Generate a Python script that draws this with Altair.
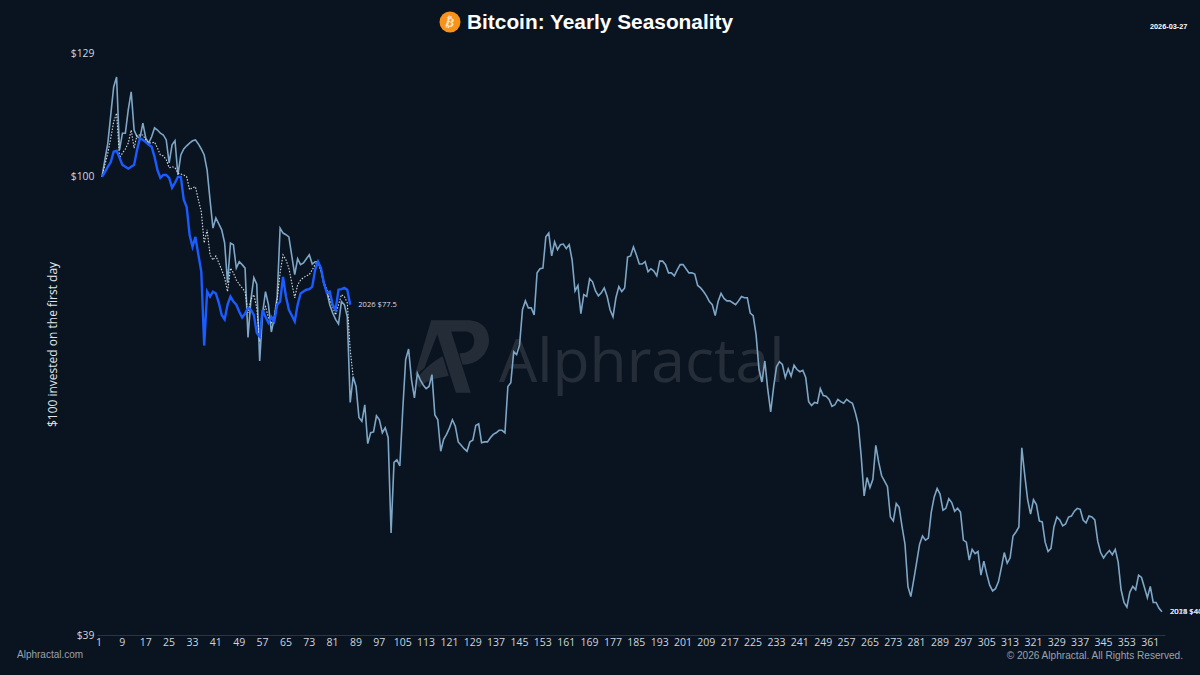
import altair as alt
import pandas as pd

BG = "#0a1320"
LIGHT = "#7ea6c6"
BLUE = "#1a5cff"

tick_days = list(range(1, 365, 8))
y_ticks = [39, 100, 129]

history = [
100,103.6,107.2,113.6,120.3,122.8,105.7,109.4,109.4,114.8,119.1,110.1,108.6,108.3,111.7,108.3,107.2,108.6,110.6,110.1,
109.4,109.0,107.9,102.9,106.8,107.7,100.4,104.6,105.9,106.6,107.2,107.7,107.9,107.0,105.9,104.6,101.4,95.4,90.0,91.9,
90.8,89.7,87.3,80.4,87.3,87.0,82.9,84.0,83.5,82.9,71.9,77.7,81.3,80.2,68.5,75.6,79.0,76.9,72.7,74.9,
78.2,90.0,89.1,88.8,88.4,85.0,81.8,84.5,83.5,83.8,84.5,85.2,83.6,84.0,84.0,82.6,80.2,79.0,76.9,75.6,
74.6,73.9,77.4,76.9,75.0,62.9,66.3,65.0,61.0,60.5,62.6,57.8,59.1,59.2,61.2,60.7,59.1,59.7,58.5,48.1,
55.6,55.9,55.2,62.0,68.7,70.2,65.9,63.5,66.8,65.9,65.2,64.7,65.0,66.6,61.3,60.7,56.9,58.3,58.9,59.7,
60.7,59.9,58.0,57.6,57.2,56.9,58.0,58.2,60.0,60.2,57.9,58.0,58.0,58.5,58.9,59.1,59.4,59.4,59.1,65.0,
65.5,69.8,69.4,70.8,76.1,77.5,76.4,76.4,75.3,82.1,82.8,82.9,88.4,89.1,85.0,87.5,86.1,87.0,87.1,86.3,
87.0,84.3,79.1,80.0,75.5,78.5,78.2,81.1,80.6,79.1,78.3,78.8,79.6,78.2,76.1,75.0,78.0,79.8,79.0,79.6,
84.8,85.0,86.6,85.2,83.6,83.6,84.0,82.3,82.8,82.4,81.6,84.1,84.1,83.5,82.1,82.1,81.6,82.6,83.5,83.5,
82.8,82.1,82.1,81.9,80.0,79.6,79.0,78.3,77.4,76.9,75.2,77.4,78.7,77.9,77.5,77.5,77.2,76.9,77.5,78.2,
78.0,78.0,75.6,75.2,72.3,67.3,65.6,68.5,64.6,61.7,64.9,67.7,68.4,68.0,66.2,67.4,66.4,67.9,67.3,67.0,
67.2,66.2,63.0,62.5,62.9,62.8,64.7,63.8,63.7,63.3,62.4,62.6,63.3,63.0,62.8,63.3,63.0,62.8,61.6,60.1,
56.3,51.9,53.9,52.8,53.7,57.6,55.6,54.1,53.5,52.9,49.7,49.3,51.1,50.7,48.7,47.0,43.1,42.2,43.7,45.3,
47.0,47.8,47.4,47.6,50.2,51.8,52.7,52.1,50.4,50.6,51.6,51.2,50.3,50.6,50.2,47.4,47.2,45.5,46.5,46.1,
46.3,44.1,45.4,44.2,43.2,42.7,42.9,43.5,44.8,46.2,45.2,45.7,47.8,48.2,48.7,57.3,54.2,51.5,50.0,51.5,
51.0,49.3,49.2,47.2,46.3,46.6,48.7,49.7,49.4,48.8,49.0,49.7,49.8,50.3,50.6,50.5,49.4,49.1,49.8,49.7,
49.4,47.3,46.2,45.7,46.1,46.4,46.0,46.5,45.3,42.8,41.7,41.3,42.6,43.1,42.8,44.1,43.9,43.0,42.1,43.1,
41.7,41.7,41.2,40.9,
]

average = [
100,102.5,105.0,108.3,112.0,114.0,104.0,105.0,105.9,107.2,110.1,106.1,109.0,109.0,109.0,107.9,107.2,107.2,107.4,106.1,
104.6,104.4,103.6,101.9,102.1,101.9,100.8,100.6,100.4,100,97.4,97.8,98.0,95.4,93.1,87.3,89.7,85.2,84.3,85.0,
83.8,82.6,81.3,79.0,82.9,82.1,80.9,80.2,79.6,79.0,75.6,77.7,78.5,76.4,71.3,75.6,76.6,74.9,74.1,74.9,
77.7,82.1,85.2,84.3,82.9,80.4,78.0,80.1,80.9,81.3,81.6,81.8,82.6,83.5,84.0,82.3,80.6,79.3,77.7,76.6,
75.3,76.9,78.5,78.2,77.2,70.1,66.3,
]

current = [
100,101.0,102.1,103.1,105.3,105.5,104.0,102.5,102.1,101.7,102.1,102.5,105.7,108.3,107.9,107.4,106.8,106.4,104.2,101.4,
99.8,100.4,100.4,99.8,97.8,98.8,100,100,95.4,94.0,88.8,86.6,88.4,85.2,82.3,70.7,79.0,78.2,79.0,78.7,
77.2,75.3,74.6,76.9,78.2,77.4,76.9,75.8,74.9,75.5,76.4,76.1,75.3,72.6,72.0,76.1,75.0,74.1,75.0,74.3,
76.9,77.4,81.4,78.2,76.1,75.2,74.3,76.9,78.7,79.0,79.3,79.4,79.8,82.6,84.0,82.9,80.4,78.8,79.0,76.9,
76.1,79.3,79.4,79.6,79.3,76.9,
]

end_labels = ["2014 $41.1", "2025 $40.9", "2018 $44.1"]


def frame(vals):
    return pd.DataFrame({"day": list(range(1, len(vals) + 1)), "v": vals})


x_scale = alt.Scale(domain=[-0.71, 365.04], nice=False, zero=False)
y_scale = alt.Scale(type="log", domain=[39, 129], nice=False)

x_axis = alt.Axis(
    values=tick_days, title=None, grid=False, ticks=False, labelOffset=-3.5,
    labelFont="Open Sans", labelFontSize=10.5, labelColor="#cdd6df", labelPadding=2,
    domainColor="#2a3442", domainWidth=1, labelOverlap=False, labelFlush=False,
)
y_axis = alt.Axis(
    values=y_ticks, format="$d", title="$100 invested on the first day", grid=False,
    ticks=False, domain=False, labelFont="Open Sans", labelFontSize=10.4,
    labelColor="#cdd6df", labelPadding=3, titleFont="Open Sans", titleFontSize=12,
    titleFontWeight="normal", titleColor="#dfe5ea", titlePadding=11,
)

X = alt.X("day:Q", scale=x_scale, axis=x_axis)
Y = alt.Y("v:Q", scale=y_scale, axis=y_axis)

hist_line = alt.Chart(frame(history)).mark_line(color=LIGHT, strokeWidth=1.6).encode(x=X, y=Y)
avg_line = alt.Chart(frame(average)).mark_line(color="#d5dde4", strokeWidth=1.1, strokeDash=[1.5, 1.5]).encode(x=X, y=Y)
cur_line = alt.Chart(frame(current)).mark_line(color=BLUE, strokeWidth=2.4).encode(x=X, y=Y)


def label_at(text, day, val, **kw):
    return (
        alt.Chart(pd.DataFrame({"day": [day], "v": [val], "t": [text]}))
        .mark_text(align="left", baseline="middle", font="Open Sans", fontSize=7.6, color="#d8dee4", **kw)
        .encode(x=X, y=Y, text="t:N")
    )


def fixed(text, px, py, **kw):
    return (
        alt.Chart(pd.DataFrame({"t": [text]}))
        .mark_text(**kw)
        .encode(x=alt.value(px - 97), y=alt.value(py - 53), text="t:N")
    )


logo_path = (
    "M-.52,-.97 L-.22,-.97 L-.52,-.19 L-.70,.29 L-.96,.50 Z "
    "M-.48,-.97 L-.09,-.97 L.52,.94 L.13,.94 Z "
    "M-.96,.63 C-.65,.24 -.39,.07 -.22,-.02 L-.06,.50 C-.39,.55 -.70,.63 -.83,.81 Z "
    "M-.09,-.97 L.43,-.97 C.83,-.97 1,-.71 1,-.45 C1,-.10 .70,.20 .30,.20 L.22,-.10 "
    "C.48,-.10 .61,-.23 .61,-.43 C.61,-.63 .48,-.67 .35,-.67 L0,-.67 Z"
)
logo = (
    alt.Chart(pd.DataFrame({"k": [1]}))
    .mark_point(shape=logo_path, filled=True, color="#ffffff", opacity=0.11, size=5776, strokeWidth=0)
    .encode(x=alt.value(451 - 97), y=alt.value(357 - 53))
)
wordmark = fixed("Alphractal", 499, 382, align="left", baseline="alphabetic", font="Open Sans", fontSize=60.5,
                 color="#ffffff", opacity=0.11)

coin = (
    alt.Chart(pd.DataFrame({"k": [1]}))
    .mark_point(shape="circle", filled=True, color="#f7931a", opacity=1, size=440, strokeWidth=0)
    .encode(x=alt.value(450 - 97), y=alt.value(22 - 53))
)
coin_b = fixed("₿", 450, 22.5, align="center", baseline="middle", font="DejaVu Sans", fontWeight="bold",
               fontSize=13, angle=14, color="#fbe3c4")
title = fixed("Bitcoin: Yearly Seasonality", 467, 22.5, align="left", baseline="middle", font="Liberation Sans",
              fontWeight="bold", fontSize=20.85, color="#ffffff")
date = fixed("2026-03-27", 1150, 26.5, align="left", baseline="middle", font="Liberation Sans", fontWeight="bold",
             fontSize=7.3, color="#ffffff")
site = fixed("Alphractal.com", 17, 655, align="left", baseline="middle", font="Liberation Sans", fontSize=10,
             color="#9aa3ac")
copy = fixed("© 2026 Alphractal. All Rights Reserved.", 1183, 655.5, align="right", baseline="middle",
             font="Liberation Sans", fontSize=10.1, color="#9aa3ac")

ends = [label_at(t, len(history), history[-1], dx=8) for t in end_labels]

chart = (
    alt.layer(
        logo, wordmark, hist_line, avg_line, cur_line,
        label_at("2026 $77.5", len(current), current[-1], dx=8),
        *ends, coin, coin_b, title, date, site, copy,
    )
    .properties(
        width=1068, height=582, background=BG,
        padding={"left": 97, "top": 53, "right": 35, "bottom": 40},
        autosize=alt.AutoSizeParams(type="none"),
    )
    .configure_view(stroke=None)
)

chart.save("out.html", embed_options={"renderer": "svg", "actions": False})

with open("out.html", encoding="utf-8") as fh:
    page = fh.read()
css = "html,body{background:" + BG + ";overflow:hidden;margin:0;padding:0}"
page = page.replace("<head>", "<head><style>" + css + "</style>", 1)
with open("out.html", "w", encoding="utf-8") as fh:
    fh.write(page)
